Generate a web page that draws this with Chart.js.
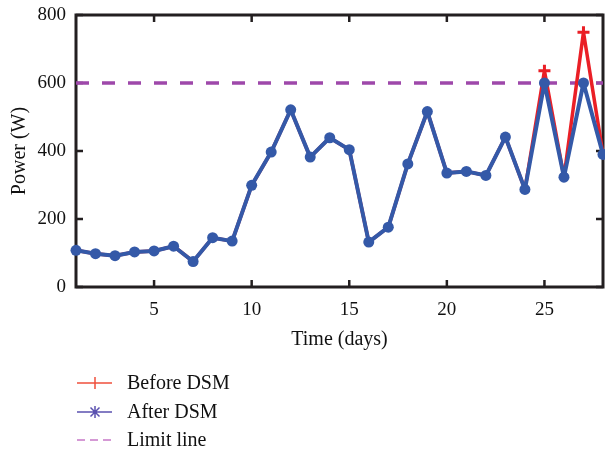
<!DOCTYPE html>
<html><head><meta charset="utf-8">
<style>html,body{margin:0;padding:0;background:#fff}#wrap{width:605px;height:451px;position:relative}canvas{display:block}</style>
<script src="https://cdn.jsdelivr.net/npm/chart.js@4/dist/chart.umd.min.js"></script>
</head><body><div id="wrap"><canvas id="c" width="605" height="451"></canvas></div>
<script>
const days = [1,2,3,4,5,6,7,8,9,10,11,12,13,14,15,16,17,18,19,20,21,22,23,24,25,26,27,28];
const afterDSM = [108,98,92,103,106,120,75,145,135,299,397,521,382,439,404,132,176,362,516,335,340,328,441,287,600,323,600,390];
const beforeDSM = [108,98,92,103,106,120,75,145,135,299,397,521,382,439,404,132,176,362,516,335,340,328,441,287,636,323,749,390];
const limitDays = [1,28];
const limitValue = [600,600];
const xTicks = [5,10,15,20,25];
const yTicks = [0,200,400,600,800];
const seriesNames = ['Before DSM','After DSM','Limit line'];
const xTitle = 'Time (days)';
const yTitle = 'Power (W)';

const FONT = "'Liberation Serif', 'Times New Roman', serif";
const toPts = (xs, ys) => xs.map((x,i)=>({x:x, y:ys[i]}));

const framePlugin = {
  id:'frame',
  beforeDatasetsDraw(chart){
    const {ctx, chartArea:a, scales} = chart;
    ctx.save();
    ctx.strokeStyle = '#231f20';
    ctx.lineWidth = 3;
    ctx.strokeRect(a.left, a.top, a.right-a.left, a.bottom-a.top);
    ctx.lineWidth = 2.5;
    const tl = 7;
    xTicks.forEach(v=>{
      const x = scales.x.getPixelForValue(v);
      ctx.beginPath();
      ctx.moveTo(x, a.bottom); ctx.lineTo(x, a.bottom-tl);
      ctx.moveTo(x, a.top); ctx.lineTo(x, a.top+tl);
      ctx.stroke();
    });
    yTicks.forEach(v=>{
      const y = scales.y.getPixelForValue(v);
      ctx.beginPath();
      ctx.moveTo(a.left, y); ctx.lineTo(a.left+tl, y);
      ctx.moveTo(a.right, y); ctx.lineTo(a.right-tl, y);
      ctx.stroke();
    });
    ctx.restore();
  }
};

const legendPlugin = {
  id:'customLegend',
  afterDraw(chart){
    const ctx = chart.ctx;
    const x0 = 77, x1 = 112, xm = 95, tx = 127;
    const ys = [383, 412, 440];
    ctx.save();
    ctx.font = "20px " + FONT;
    ctx.textBaseline = 'middle';
    ctx.textAlign = 'left';
    ctx.fillStyle = '#111';
    ctx.strokeStyle = '#f0503c'; ctx.lineWidth = 1.5;
    ctx.beginPath(); ctx.moveTo(x0, ys[0]); ctx.lineTo(x1, ys[0]);
    ctx.moveTo(xm, ys[0]-6); ctx.lineTo(xm, ys[0]+6); ctx.stroke();
    ctx.strokeStyle = '#5b52b0'; ctx.lineWidth = 1.5;
    ctx.beginPath(); ctx.moveTo(x0, ys[1]); ctx.lineTo(x1, ys[1]);
    ctx.moveTo(xm, ys[1]-6); ctx.lineTo(xm, ys[1]+6);
    ctx.moveTo(xm-4.5, ys[1]-4.5); ctx.lineTo(xm+4.5, ys[1]+4.5);
    ctx.moveTo(xm-4.5, ys[1]+4.5); ctx.lineTo(xm+4.5, ys[1]-4.5);
    ctx.stroke();
    ctx.strokeStyle = '#c878c8'; ctx.lineWidth = 1.5;
    ctx.setLineDash([8,5]);
    ctx.beginPath(); ctx.moveTo(x0, ys[2]); ctx.lineTo(x1, ys[2]); ctx.stroke();
    ctx.setLineDash([]);
    seriesNames.forEach((n,i)=>ctx.fillText(n, tx, ys[i]+1));
    ctx.restore();
  }
};

new Chart(document.getElementById('c'), {
  type:'line',
  data:{
    datasets:[
      {label:seriesNames[2], data:toPts(limitDays, limitValue), borderColor:'#9e48aa', borderWidth:3.5,
       borderDash:[13,13], pointRadius:0, order:3, clip:false},
      {label:seriesNames[0], data:toPts(days, beforeDSM), borderColor:'#ea1f26', borderWidth:3.5,
       borderJoinStyle:'round',
       pointStyle:'cross',
       pointRadius:(c)=> (beforeDSM[c.dataIndex] !== afterDSM[c.dataIndex] ? 6 : 0),
       pointBorderWidth:3, pointBorderColor:'#ea1f26', pointBackgroundColor:'#ea1f26',
       order:2, clip:false},
      {label:seriesNames[1], data:toPts(days, afterDSM), borderColor:'#3459a8', borderWidth:4,
       borderJoinStyle:'round',
       pointStyle:'circle', pointRadius:5.5, pointBorderWidth:0, pointBackgroundColor:'#3459a8',
       order:1, clip:false}
    ]
  },
  options:{
    responsive:false, animation:false, devicePixelRatio:1,
    layout:{autoPadding:false, padding:{left:0, top:15, right:2, bottom:98}},
    plugins:{legend:{display:false}, tooltip:{enabled:false}},
    elements:{line:{tension:0}},
    scales:{
      x:{type:'linear', min:1, max:28,
         afterBuildTicks(s){ s.ticks = xTicks.map(v=>({value:v})); },
         afterFit(s){ s.height = 66; s.paddingLeft = 0; s.paddingRight = 0; },
         grid:{display:false, drawTicks:false}, border:{display:false},
         ticks:{font:{family:FONT, size:19}, color:'#111', padding:12, maxRotation:0},
         title:{display:true, text:xTitle, font:{family:FONT, size:20}, color:'#111', padding:{top:0,bottom:1}}
      },
      y:{type:'linear', min:0, max:800,
         afterBuildTicks(s){ s.ticks = yTicks.map(v=>({value:v})); },
         afterFit(s){ s.width = 76; s.paddingTop = 0; s.paddingBottom = 0; },
         grid:{display:false, drawTicks:false}, border:{display:false},
         ticks:{font:{family:FONT, size:19}, color:'#111', padding:10},
         title:{display:true, text:yTitle, font:{family:FONT, size:20}, color:'#111', padding:{top:8,bottom:0}}
      }
    }
  },
  plugins:[framePlugin, legendPlugin]
});
</script></body></html>
